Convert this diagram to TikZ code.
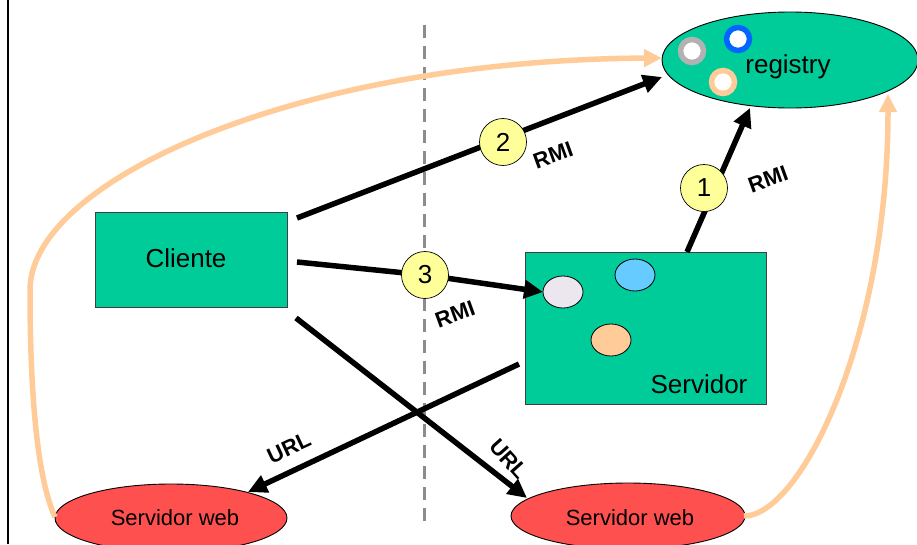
\documentclass[tikz,border=0pt]{standalone}
\usepackage{fontspec}
\setmainfont{Liberation Sans}
\usetikzlibrary{shapes.geometric,arrows.meta}

\definecolor{boxgreen}{HTML}{00CC99}
\definecolor{webred}{HTML}{FF5050}
\definecolor{peach}{HTML}{FFCC99}
\definecolor{numyellow}{HTML}{FFFF99}
\definecolor{lilac}{HTML}{ECE6EE}
\definecolor{skyblue}{HTML}{66CCFF}
\definecolor{ringgray}{HTML}{B2B2B2}
\definecolor{ringblue}{HTML}{0066FF}
\definecolor{splitgray}{HTML}{8C8C8C}

\begin{document}
\begin{tikzpicture}[x=1pt,y=-1pt,
  box/.style={draw=black!75, line width=0.9pt, fill=boxgreen, inner sep=0pt},
  oval/.style={ellipse, draw=black, line width=0.9pt, inner sep=0pt},
  obj/.style={ellipse, draw=black, line width=0.8pt, minimum width=40pt, minimum height=32pt, inner sep=0pt},
  ring/.style={circle, draw=#1, line width=5.5pt, fill=white, minimum size=23pt, inner sep=0pt},
  num/.style={circle, draw=black, line width=0.7pt, fill=numyellow, minimum size=47pt, inner sep=0pt, font=\fontsize{26}{30}\selectfont},
  big/.style={font=\fontsize{26}{31}\selectfont},
  small/.style={font=\fontsize{22}{26}\selectfont},
  tag/.style={font=\fontsize{22}{26}\selectfont\bfseries, inner sep=0pt},
  arr/.style={line width=5.5pt, -{Triangle[length=19pt,width=18pt]}},
  feed/.style={peach, line width=5.5pt, -{Triangle[length=18pt,width=17pt]}}
]
\useasboundingbox (0,0) rectangle (917,544);

% frame edge on the left
\draw[line width=2.5pt] (8,0) -- (8,544);

% separation between client and server side
\draw[splitgray, line width=3pt, dash pattern=on 13pt off 8pt] (424,25) -- (424,522);

% main boxes
\node[box, minimum width=192pt, minimum height=95pt] (cliente) at (191,259.5) {};
\node[big] (clitxt) at (186,258) {Cliente};
\node[box, minimum width=241pt, minimum height=152pt] (servidor) at (645.5,328) {};
\node[big] (servtxt) at (699,384) {Servidor};

% objects inside the server
\node[obj, fill=lilac] (objA) at (563,292) {};
\node[obj, fill=skyblue] (objB) at (635,275) {};
\node[obj, fill=peach] (objC) at (611,340) {};

% registry
\node[oval, fill=boxgreen, minimum width=256pt, minimum height=96pt] (registry) at (790,60) {};
\node[big] (regtxt) at (788,67) {registry};
\node[ring=ringgray] (ringA) at (692,51) {};
\node[ring=ringblue] (ringB) at (738,39) {};
\node[ring=peach] (ringC) at (723,82) {};

% web servers
\node[oval, fill=webred, minimum width=232pt, minimum height=68pt] (webL) at (171,518) {};
\node[small] (webLtxt) at (175,518) {Servidor web};
\node[oval, fill=webred, minimum width=234pt, minimum height=66pt] (webR) at (628,516) {};
\node[small] (webRtxt) at (630,518) {Servidor web};

% connector end points
\coordinate (s2) at (297,218);
\coordinate (e2) at (662,77);
\coordinate (s3) at (297,262);
\coordinate (k3) at (425,275);
\coordinate (e3) at (543,292);
\coordinate (s1) at (687,252);
\coordinate (e1) at (750,108);
\coordinate (sUL) at (519,364);
\coordinate (eUL) at (248,492);
\coordinate (sUR) at (296,318);
\coordinate (eUR) at (527,498);
\coordinate (fL) at (55,517);
\coordinate (fLend) at (662,58);
\coordinate (fR) at (744,516);
\coordinate (fRend) at (888,94);

% class download paths from the web servers to the registry
\draw[feed] (fL) .. controls (38,480) and (30,400) .. (30,290)
                 .. controls (30,180) and (300,60) .. (fLend);
\draw[feed] (fR) .. controls (800,516) and (888,340) .. (fRend);

% RMI calls
\draw[arr] (s2) -- (e2);
\draw[arr] (s3) -- (k3) -- (e3);
\draw[arr] (s1) -- (e1);

% URL requests
\draw[arr] (sUL) -- (eUL);
\draw[arr] (sUR) -- (eUR);

% step markers
\node[num] (n2) at (503,142) {2};
\node[num] (n3) at (k3) {3};
\node[num] (n1) at (704,188) {1};

% labels
\node[tag, rotate=20] (rmi2) at (553,155) {RMI};
\node[tag, rotate=20] (rmi3) at (455,314) {RMI};
\node[tag, rotate=20] (rmi1) at (768,179) {RMI};
\node[tag, rotate=25] (urlL) at (289,448) {URL};
\node[tag, rotate=-48] (urlR) at (509,459) {URL};
\end{tikzpicture}
\end{document}
